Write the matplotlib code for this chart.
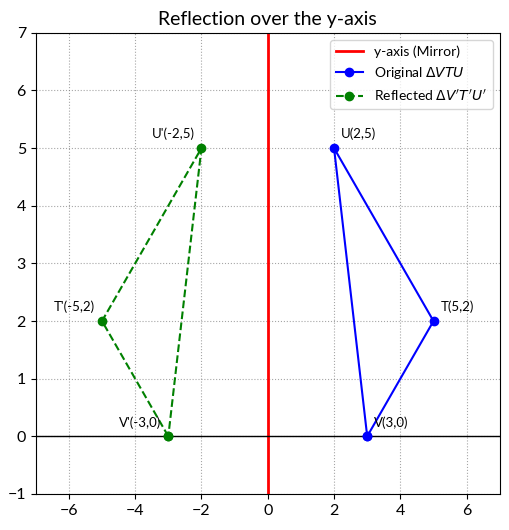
import numpy as np
import matplotlib
matplotlib.use("Agg")
import matplotlib.pyplot as plt

plt.rcParams['font.family'] = ['Lato', 'DejaVu Sans']
plt.rcParams['mathtext.fontset'] = 'dejavusans'

# original triangle V, T, U
orig_names = ["V", "T", "U"]
orig_x = [3, 5, 2]
orig_y = [0, 2, 5]
# reflected over the y-axis
refl_names = ["V'", "T'", "U'"]
refl_x = [-3, -5, -2]
refl_y = [0, 2, 5]

fig, ax = plt.subplots(figsize=(5.1, 5.3), dpi=100)
fig.subplots_adjust(left=0.07, right=0.98, bottom=0.068, top=0.938)

ax.axvline(0, color="red", lw=2, label="y-axis (Mirror)")
ax.axhline(0, color="black", lw=1)

ax.plot(orig_x + orig_x[:1], orig_y + orig_y[:1], "o-", color="blue",
        label=r"Original $\Delta VTU$")
ax.plot(refl_x + refl_x[:1], refl_y + refl_y[:1], "o--", color="green",
        label=r"Reflected $\Delta V'T'U'$")

for n, x, y in zip(orig_names, orig_x, orig_y):
    ax.annotate(f"{n}({x},{y})", (x, y), xytext=(5, 7), textcoords="offset points",
                fontsize=9.5, ha="left")
for n, x, y in zip(refl_names, refl_x, refl_y):
    ax.annotate(f"{n}({x},{y})", (x, y), xytext=(-5, 7), textcoords="offset points",
                fontsize=9.5, ha="right")

ax.set_xlim(-7, 7)
ax.set_ylim(-1, 7)
ax.set_xticks([-6, -4, -2, 0, 2, 4, 6])
ax.set_title("Reflection over the y-axis", fontsize=14)
ax.grid(True, linestyle=":", color="gray", alpha=0.7)
ax.legend(loc="upper right", fontsize=10)
ax.tick_params(labelsize=11.5)

plt.savefig("out.png")
